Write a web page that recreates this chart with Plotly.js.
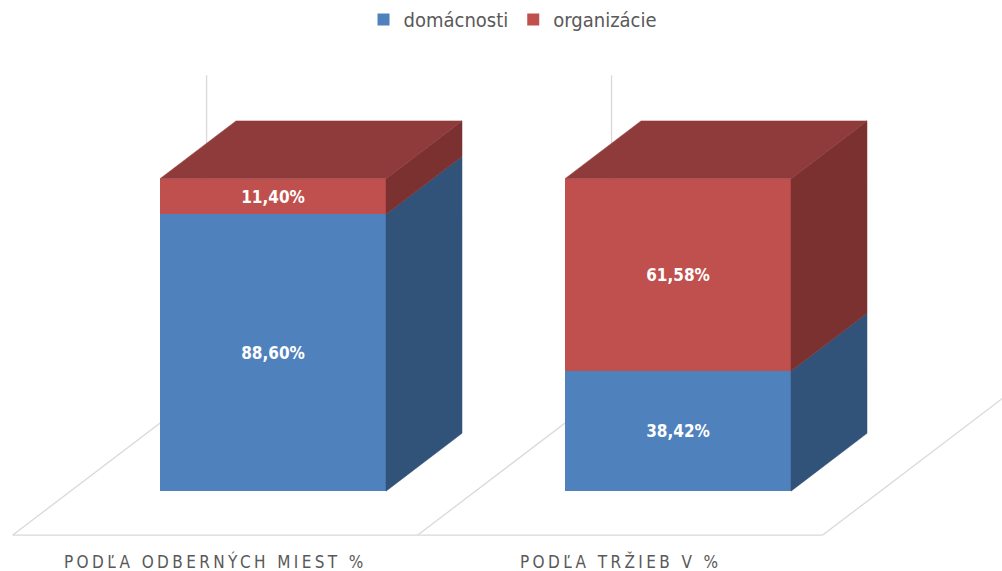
<!DOCTYPE html>
<html>
<head>
<meta charset="utf-8">
<script src="https://cdn.plot.ly/plotly-3.0.1.min.js"></script>
<style>
  html, body { margin: 0; padding: 0; background: #fff; }
  #chart { width: 1002px; height: 571px; }
  text[data-unformatted^="POD"] { letter-spacing: 3.4px; }
</style>
</head>
<body>
<div id="chart"></div>
<script>
// ---- data ----
const categories = ['PODĽA ODBERNÝCH MIEST %', 'PODĽA TRŽIEB V %'];
const seriesNames = ['domácnosti', 'organizácie'];
const domacnosti = [88.60, 38.42];
const organizacie = [11.40, 61.58];

// ---- styling / geometry ----
const FONT = "'Liberation Sans Narrow', 'DejaVu Sans Condensed', Lato, sans-serif";
const frontColors = ['#4F81BD', '#C0504D'];
const sideColors  = ['#325379', '#7C3131'];
const topColors   = ['#3F6698', '#903B3B'];
const BW = 0.558;          // bar width (category units)
const KX = 0.1877;         // depth projection in x per unit depth
const KY = 18.5;           // depth projection in y per unit depth
const D_FRONT = -0.76;     // floor front depth
const D_BACK = 1.79;       // floor/wall back depth
const WALL_TOP = 100;

const pos = categories.map((_, i) => i);
const series = [domacnosti, organizacie];
const fmt = v => v.toFixed(2).replace('.', ',') + '%';
const proj = (c, h, d) => [c + d * KX, h + d * KY];

const traces = [];
// front faces as stacked bars
series.forEach((vals, s) => {
  traces.push({
    type: 'bar', x: pos, y: vals, name: seriesNames[s], width: BW,
    marker: { color: frontColors[s], line: { width: 0 } },
    text: vals.map(fmt), textposition: 'inside', insidetextanchor: 'middle',
    textangle: 0, constraintext: 'none',
    textfont: { family: FONT, size: 17, color: '#ffffff', weight: 'bold' },
    hoverinfo: 'skip', xaxis: 'x', yaxis: 'y'
  });
});

// side and top faces
pos.forEach((c, i) => {
  let base = 0;
  series.forEach((vals, s) => {
    const top = base + vals[i];
    const xr = c + BW / 2;
    const pts = [proj(xr, base, 0), proj(xr, base, 1), proj(xr, top, 1), proj(xr, top, 0), proj(xr, base, 0)];
    traces.push({
      type: 'scatter', mode: 'lines', fill: 'toself', fillcolor: sideColors[s],
      line: { width: 0.5, color: sideColors[s] },
      x: pts.map(p => p[0]), y: pts.map(p => p[1]),
      showlegend: false, hoverinfo: 'skip'
    });
    base = top;
  });
  // top face on the uppermost segment
  const sTop = series.length - 1;
  const xl = c - BW / 2, xr = c + BW / 2;
  const tp = [proj(xl, base, 0), proj(xl, base, 1), proj(xr, base, 1), proj(xr, base, 0), proj(xl, base, 0)];
  traces.push({
    type: 'scatter', mode: 'lines', fill: 'toself', fillcolor: topColors[sTop],
    line: { width: 0.5, color: topColors[sTop] },
    x: tp.map(p => p[0]), y: tp.map(p => p[1]),
    showlegend: false, hoverinfo: 'skip'
  });
});

// floor and wall lines (shapes below traces)
const shapes = [];
const bounds = pos.map(c => c - 0.5).concat([pos[pos.length - 1] + 0.5]);
const lineStyle = { color: '#D9D9D9', width: 1.3 };
const seg = (a, b) => ({ type: 'line', layer: 'below', xref: 'x', yref: 'y',
  x0: a[0], y0: a[1], x1: b[0], y1: b[1], line: lineStyle });
shapes.push(seg(proj(bounds[0], 0, D_FRONT), proj(bounds[bounds.length - 1], 0, D_FRONT)));
bounds.forEach(b => {
  shapes.push(seg(proj(b, 0, D_FRONT), proj(b, 0, D_BACK)));
  shapes.push(seg(proj(b, 0, D_BACK), proj(b, WALL_TOP, D_BACK)));
});

const W = 1002, H = 571;
// category labels at floor front
const annotations = categories.map((t, i) => ({
  text: t, x: proj(pos[i], 0, D_FRONT)[0], xref: 'x', y: 1 - 561 / H, yref: 'paper',
  showarrow: false, xanchor: 'center', yanchor: 'middle',
  font: { family: FONT, size: 17, color: '#595959' }
}));

const layout = {
  width: W, height: H,
  margin: { l: 0, r: 0, t: 0, b: 0, pad: 0 },
  paper_bgcolor: '#ffffff', plot_bgcolor: 'rgba(0,0,0,0)',
  barmode: 'stack', bargap: 0,
  showlegend: true,
  legend: { orientation: 'h', x: 0.512, xanchor: 'center', y: 1 - 19 / H, yanchor: 'middle',
    font: { family: FONT, size: 20, color: '#595959' }, itemwidth: 30, traceorder: 'normal',
    bgcolor: 'rgba(0,0,0,0)' },
  xaxis: { range: [-273 / 405, -273 / 405 + W / 405], visible: false, fixedrange: true },
  yaxis: { range: [-80 / 3.13, 491 / 3.13], visible: false, fixedrange: true },
  shapes: shapes,
  annotations: annotations,
  hovermode: false
};

Plotly.newPlot('chart', traces, layout, { displayModeBar: false, staticPlot: true });
</script>
</body>
</html>
